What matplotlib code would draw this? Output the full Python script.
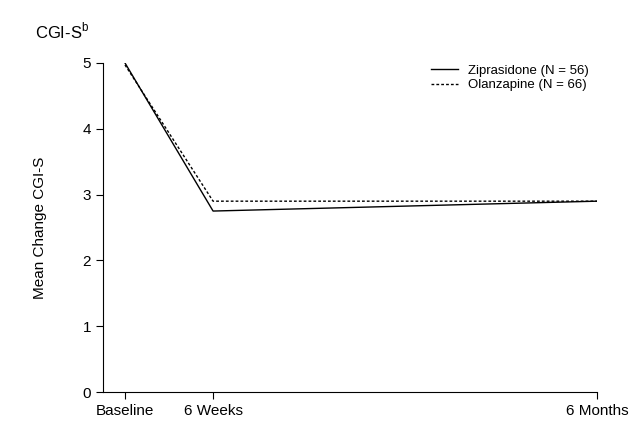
import matplotlib
matplotlib.use("Agg")
import matplotlib.pyplot as plt

plt.rcParams['font.family'] = ['Liberation Sans', 'DejaVu Sans']

x_pos = [0, 1, 5.36]
x_labels = ["Baseline", "6 Weeks", "6 Months"]
ziprasidone = [5.0, 2.75, 2.9]
olanzapine = [4.97, 2.9, 2.9]

fig = plt.figure(figsize=(6.36, 4.26), dpi=100)
ax = fig.add_axes([103 / 636, 1 - 392 / 426, (597 - 103) / 636, (392 - 63) / 426])

ax.plot(x_pos, ziprasidone, color='black', lw=1.0, label="Ziprasidone (N = 56)")
ax.plot(x_pos, olanzapine, color='black', lw=1.0, ls=(0, (2, 1.5)), label="Olanzapine (N = 66)")

ax.set_xlim(-0.25, 5.36)
ax.set_ylim(0, 5)
ax.set_xticks(x_pos)
ax.set_xticklabels(x_labels, fontsize=11)
ax.set_yticks(range(6))
ax.tick_params(labelsize=11, direction='out', length=5)
ax.spines['top'].set_visible(False)
ax.spines['right'].set_visible(False)
ax.set_ylabel("Mean Change CGI-S", fontsize=11, labelpad=26)

ax.legend(loc='upper right', frameon=False, fontsize=9.5, handlelength=2.0,
          bbox_to_anchor=(1.0, 1.02), borderaxespad=0.2, labelspacing=0.2)
fig.text(35 / 636, 1 - 38 / 426, r"CGI-S$^{\mathregular{b}}$", fontsize=12)

fig.savefig("out.png", dpi=100)
